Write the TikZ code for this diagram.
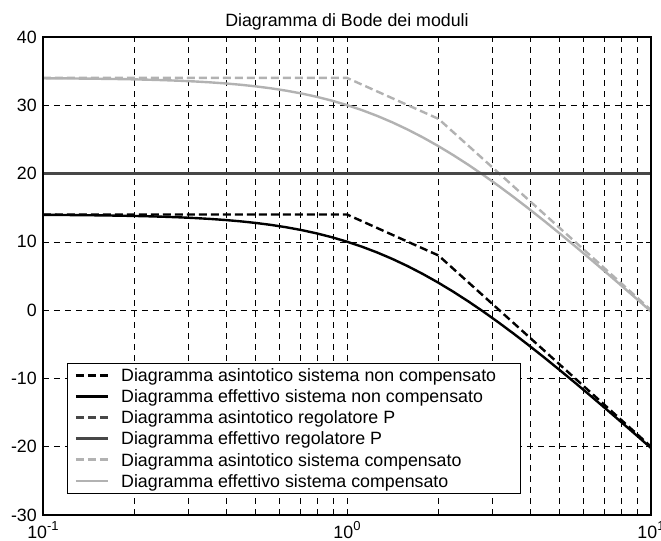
\documentclass[tikz,border=0pt]{standalone}
\usepackage{fontspec}
\setmainfont{Liberation Sans}
\usetikzlibrary{positioning}

\tikzset{
	gridline/.style={black, line width=0.6pt, dash pattern=on 6pt off 5pt},
	tickmark/.style={black, line width=0.6pt},
	asy/.style={line width=2.4pt, dash pattern=on 8pt off 4pt},
	eff/.style={line width=2.4pt},
	nonasy/.style={asy, black},
	noneff/.style={eff, black},
	regasy/.style={asy, black!72},
	regeff/.style={eff, black!72},
	compasy/.style={asy, black!30},
	compeff/.style={eff, black!30},
	ticklabel/.style={font=\fontsize{17.8}{20}\selectfont, inner sep=0pt},
	legtext/.style={font=\fontsize{17.8}{20}\selectfont, inner sep=0pt, anchor=west, text height=12.8pt, text depth=0pt},
	legbox/.style={draw=black, fill=white, line width=0.8pt}
}

\begin{document}
\begin{tikzpicture}[x=304pt, y=6.829pt]
	\def\lt{0.30103} % log10(2)
	\useasboundingbox (-1.1414,45.41) rectangle (1.0329,-33.81);
	
	% grid
	\foreach \d in {-1,0} {
		\foreach \k in {2,...,9} {
			\pgfmathsetmacro{\lx}{\d+log10(\k)}
			\draw[gridline] (\lx,-30) -- (\lx,40);
			\draw[tickmark] (\lx,-30) -- ++(0,5pt) (\lx,40) -- ++(0,-5pt);
		}
	}
	\draw[gridline] (0,-30) -- (0,40);
	\draw[tickmark] (0,-30) -- ++(0,5pt) (0,40) -- ++(0,-5pt);
	\foreach \v in {-20,-10,...,30} {
		\draw[gridline] (-1,\v) -- (1,\v);
		\draw[tickmark] (-1,\v) -- ++(5pt,0) (1,\v) -- ++(-5pt,0);
	}
	
	% curves
	\draw[compeff] plot[domain=-1:1, samples=41] (\x,{34-10*log10(1+pow(10,2*\x))-10*log10(1+pow(10,2*\x)/4)});
	\draw[compasy] (-1,34) -- (0,34) -- (\lt,28) -- (1,0);
	\draw[regeff] (-1,20) -- (1,20);
	\draw[regasy] (-1,20) -- (1,20);
	\draw[noneff] plot[domain=-1:1, samples=41] (\x,{14-10*log10(1+pow(10,2*\x))-10*log10(1+pow(10,2*\x)/4)});
	\draw[nonasy] (-1,14) -- (0,14) -- (\lt,8) -- (1,-20);
	
	% legend
	\draw[legbox] (-0.921,-7.76) rectangle (0.569,-26.79);
	\foreach \i/\sty/\txt in {1/nonasy/Diagramma asintotico sistema non compensato,
		2/noneff/Diagramma effettivo sistema non compensato,
		3/regasy/Diagramma asintotico regolatore P,
		4/regeff/Diagramma effettivo regolatore P,
		5/compasy/Diagramma asintotico sistema compensato,
		6/compeff/Diagramma effettivo sistema compensato} {
		\node[legtext] (leg\i) at (-0.7434,{-9.55-3.087*(\i-1)}) {\txt};
		\draw[\sty] ([xshift=-45pt]leg\i.west) -- ([xshift=-13pt]leg\i.west);
	}
	
	% axes box
	\draw[black, line width=1.2pt] (-1,-30) rectangle (1,40);
	
	% labels
	\foreach \v [count=\n] in {-30,-20,...,40}
		\node[ticklabel, anchor=east] (ylab\n) at ([xshift=-6pt]-1,\v) {\v};
	\node[ticklabel, text depth=0pt, anchor=base] (xlabA) at (-1,-33.45) {10\raisebox{8pt}{\fontsize{13}{13}\selectfont -1}};
	\node[ticklabel, text depth=0pt, anchor=base] (xlabB) at (0,-33.45) {10\raisebox{8pt}{\fontsize{13}{13}\selectfont 0}};
	\node[ticklabel, text depth=0pt, anchor=base] (xlabC) at (1,-33.45) {10\raisebox{8pt}{\fontsize{13}{13}\selectfont 1}};
	\node[ticklabel, anchor=base] (title) at (0,41.6) {Diagramma di Bode dei moduli};
\end{tikzpicture}
\end{document}
